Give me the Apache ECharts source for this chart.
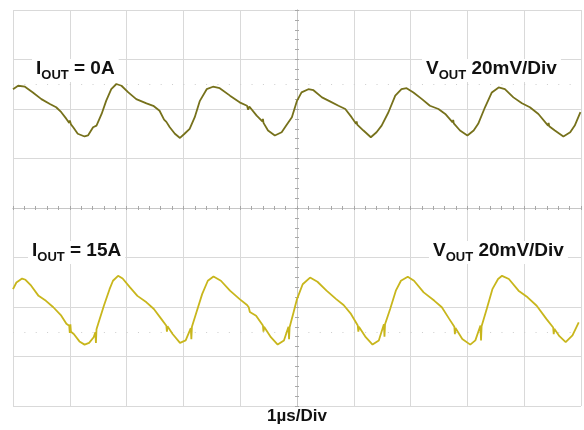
<!DOCTYPE html>
<html>
<head>
<meta charset="utf-8">
<script src="https://cdn.jsdelivr.net/npm/echarts@6/dist/echarts.min.js"></script>
<style>
html,body{margin:0;padding:0;background:#fff;}
#chart{width:584px;height:430px;}
</style>
</head>
<body>
<div id="chart"></div>
<script>
// ---- Data (time in µs from left edge of screen, ripple in mV) ----
const TIME_DIVS = 10;          // 1 µs/Div
const VOLT_PER_DIV = 20;       // 20 mV/Div
const offsetTop = 40;          // channel position (mV on screen)
const offsetBottom = -40;
const cursorTop = 50;
const cursorBottom = -50;

const timeTop = [0.00,0.09,0.21,0.35,0.50,0.65,0.76,0.85,0.94,0.99,1.00,1.02,1.06,1.14,1.26,1.32,1.41,1.47,1.56,1.64,1.73,1.82,1.91,2.03,2.17,2.35,2.47,2.58,2.66,2.68,2.70,2.76,2.85,2.94,3.02,3.11,3.20,3.29,3.41,3.52,3.64,3.82,3.99,4.12,4.14,4.16,4.29,4.39,4.40,4.41,4.49,4.61,4.73,4.81,4.91,5.00,5.08,5.20,5.29,5.44,5.58,5.73,5.85,5.96,6.04,6.05,6.06,6.17,6.30,6.40,6.49,6.61,6.73,6.84,6.93,7.05,7.20,7.34,7.49,7.61,7.74,7.75,7.76,7.87,8.00,8.11,8.19,8.31,8.43,8.55,8.66,8.81,8.96,9.10,9.25,9.42,9.43,9.44,9.54,9.69,9.81,9.89,9.99];
const rippleTop = [8.0,9.4,9.0,6.7,4.0,2.0,0.7,-1.3,-4.0,-5.6,-4.6,-6.2,-7.4,-10.0,-11.1,-10.7,-7.4,-6.7,-2.0,3.3,8.0,10.1,9.4,6.7,4.0,2.3,1.3,-0.7,-4.3,-3.6,-5.2,-7.4,-10.0,-11.7,-10.0,-8.0,-3.3,3.3,8.0,9.0,8.4,5.4,2.7,1.3,-0.3,1.0,-2.7,-5.0,-4.0,-5.6,-8.7,-10.7,-9.4,-6.7,-3.3,3.3,6.7,8.0,7.6,4.7,3.1,1.3,0,-3.3,-6.0,-5.0,-6.3,-8.7,-11.4,-9.4,-6.7,-1.3,5.4,8.0,8.4,6.7,4.0,1.3,0,-2.0,-5.4,-4.4,-5.8,-8.7,-10.7,-8.7,-6.0,0.7,6.7,8.7,8.0,4.7,2.3,0.7,-2.0,-6.7,-5.6,-7.0,-8.7,-11.1,-9.4,-6.7,-1.3];

const timeBottom = [0.00,0.06,0.16,0.22,0.32,0.45,0.58,0.71,0.85,0.94,0.99,1.00,1.01,1.02,1.07,1.17,1.26,1.34,1.42,1.45,1.46,1.47,1.50,1.60,1.70,1.76,1.85,1.93,2.06,2.19,2.35,2.48,2.61,2.70,2.71,2.72,2.81,2.94,3.04,3.13,3.14,3.15,3.23,3.33,3.43,3.53,3.66,3.82,3.99,4.12,4.15,4.17,4.28,4.40,4.41,4.42,4.54,4.66,4.77,4.85,4.86,4.87,4.94,5.00,5.10,5.23,5.36,5.52,5.69,5.82,5.95,6.07,6.08,6.09,6.21,6.33,6.44,6.53,6.54,6.55,6.64,6.74,6.83,6.95,7.06,7.23,7.42,7.55,7.68,7.77,7.78,7.79,7.91,8.05,8.14,8.23,8.24,8.25,8.34,8.44,8.54,8.61,8.73,8.90,9.06,9.22,9.39,9.51,9.52,9.53,9.62,9.73,9.85,9.96];
const rippleBottom = [7.2,9.9,11.5,11.0,8.6,4.5,2.5,-0.1,-3.5,-6.8,-7.6,-10.5,-7.0,-10.0,-10.9,-13.9,-15.2,-14.5,-12.2,-10.2,-14.5,-9.0,-6.8,0.5,7.2,10.6,12.6,11.5,7.9,4.5,1.9,-0.8,-4.8,-7.6,-10.0,-7.8,-10.9,-14.5,-13.5,-8.5,-13.0,-8.0,-2.1,5.2,10.6,12.3,10.6,6.6,3.2,0.8,-0.1,-2.0,-3.5,-7.5,-10.0,-8.0,-12.2,-15.2,-13.5,-8.0,-13.0,-8.2,-2.1,3.2,9.2,11.9,10.2,6.6,3.2,0.8,-2.8,-7.5,-10.0,-8.0,-12.2,-15.2,-13.5,-7.0,-12.0,-7.0,-0.8,6.6,10.6,12.2,10.6,5.9,2.5,-0.1,-4.8,-8.0,-11.0,-8.5,-12.9,-15.2,-13.5,-7.5,-13.5,-7.8,-0.8,7.2,11.3,12.6,11.3,6.6,3.9,0.5,-4.8,-8.3,-11.0,-8.8,-11.8,-14.2,-11.5,-6.2];

// ---- Build series data (screen-centred time axis) ----
const half = TIME_DIVS / 2;
const dataTop = timeTop.map((t, i) => [t - half, offsetTop + rippleTop[i]]);
const dataBottom = timeBottom.map((t, i) => [t - half, offsetBottom + rippleBottom[i]]);

const FONT = '"Liberation Sans", Arial, Helvetica, sans-serif';
const gridColor = '#d9d9d9';
const centerColor = '#c6c6c6';
const tickColor = '#a8a8a8';

function centerX(pos) {
  return {
    type: 'value', min: -half, max: half, interval: 1, position: pos,
    axisLine: { show: true, onZero: true, onZeroAxisIndex: 0, lineStyle: { color: centerColor, width: 1 } },
    axisTick: { show: true, length: 2, lineStyle: { color: tickColor } },
    minorTick: { show: true, splitNumber: 5, length: 2, lineStyle: { color: tickColor } },
    axisLabel: { show: false }, splitLine: { show: false }
  };
}
function centerY(pos) {
  const m = 4 * VOLT_PER_DIV;
  return {
    type: 'value', min: -m, max: m, interval: VOLT_PER_DIV, position: pos,
    axisLine: { show: true, onZero: true, onZeroAxisIndex: 0, lineStyle: { color: centerColor, width: 1 } },
    axisTick: { show: true, length: 2, lineStyle: { color: tickColor } },
    minorTick: { show: true, splitNumber: 5, length: 2, lineStyle: { color: tickColor } },
    axisLabel: { show: false }, splitLine: { show: false }
  };
}

function label(text, sub, rest, x, y) {
  return {
    type: 'text', left: x, top: y, z: 100,
    style: {
      text: '{m|' + text + '}{s|' + sub + '}{m|' + rest + '}',
      backgroundColor: '#fff',
      padding: [0, 4, 0, 4],
      rich: {
        m: { fontFamily: FONT, fontWeight: 'bold', fontSize: 19, fill: '#111', lineHeight: 23, verticalAlign: 'top' },
        s: { fontFamily: FONT, fontWeight: 'bold', fontSize: 13, fill: '#111', lineHeight: 23, verticalAlign: 'bottom' }
      }
    }
  };
}

const chart = echarts.init(document.getElementById('chart'), null, { renderer: 'canvas' });
chart.setOption({
  animation: false,
  backgroundColor: '#fff',
  grid: { left: 13, right: 3, top: 10, bottom: 22, containLabel: false },
  xAxis: [
    {
      type: 'value', min: -half, max: half, interval: 1, position: 'bottom',
      axisLine: { show: false, onZero: false }, axisTick: { show: false }, axisLabel: { show: false },
      splitLine: { show: true, lineStyle: { color: gridColor, width: 1 } },
      name: '1µs/Div', nameLocation: 'middle', nameGap: 2,
      nameTextStyle: { fontFamily: FONT, fontWeight: 'bold', fontSize: 17, color: '#111', verticalAlign: 'top' }
    },
    centerX('bottom'),
    centerX('top')
  ],
  yAxis: [
    {
      type: 'value', min: -4 * VOLT_PER_DIV, max: 4 * VOLT_PER_DIV, interval: VOLT_PER_DIV, position: 'left',
      axisLine: { show: false, onZero: false }, axisTick: { show: false }, axisLabel: { show: false },
      splitLine: { show: true, lineStyle: { color: gridColor, width: 1 } }
    },
    centerY('left'),
    centerY('right')
  ],
  series: [
    {
      name: 'IOUT = 0A', type: 'line', xAxisIndex: 0, yAxisIndex: 0,
      data: dataTop, showSymbol: false, smooth: false, z: 10,
      lineStyle: { color: '#76711b', width: 1.8 },
      markLine: {
        silent: true, symbol: 'none', label: { show: false },
        lineStyle: { color: '#cdcdcd', width: 1, type: [1, 10.36] },
        data: [{ yAxis: cursorTop }]
      }
    },
    {
      name: 'IOUT = 15A', type: 'line', xAxisIndex: 0, yAxisIndex: 0,
      data: dataBottom, showSymbol: false, smooth: false, z: 10,
      lineStyle: { color: '#c8b61c', width: 1.8 },
      markLine: {
        silent: true, symbol: 'none', label: { show: false },
        lineStyle: { color: '#cdcdcd', width: 1, type: [1, 10.36] },
        data: [{ yAxis: cursorBottom }]
      }
    }
  ],
  graphic: [
    label('I', 'OUT', ' = 0A', 32, 59),
    label('V', 'OUT', ' 20mV/Div', 422, 59),
    label('I', 'OUT', ' = 15A', 28, 241),
    label('V', 'OUT', ' 20mV/Div', 429, 241)
  ]
});
</script>
</body>
</html>
